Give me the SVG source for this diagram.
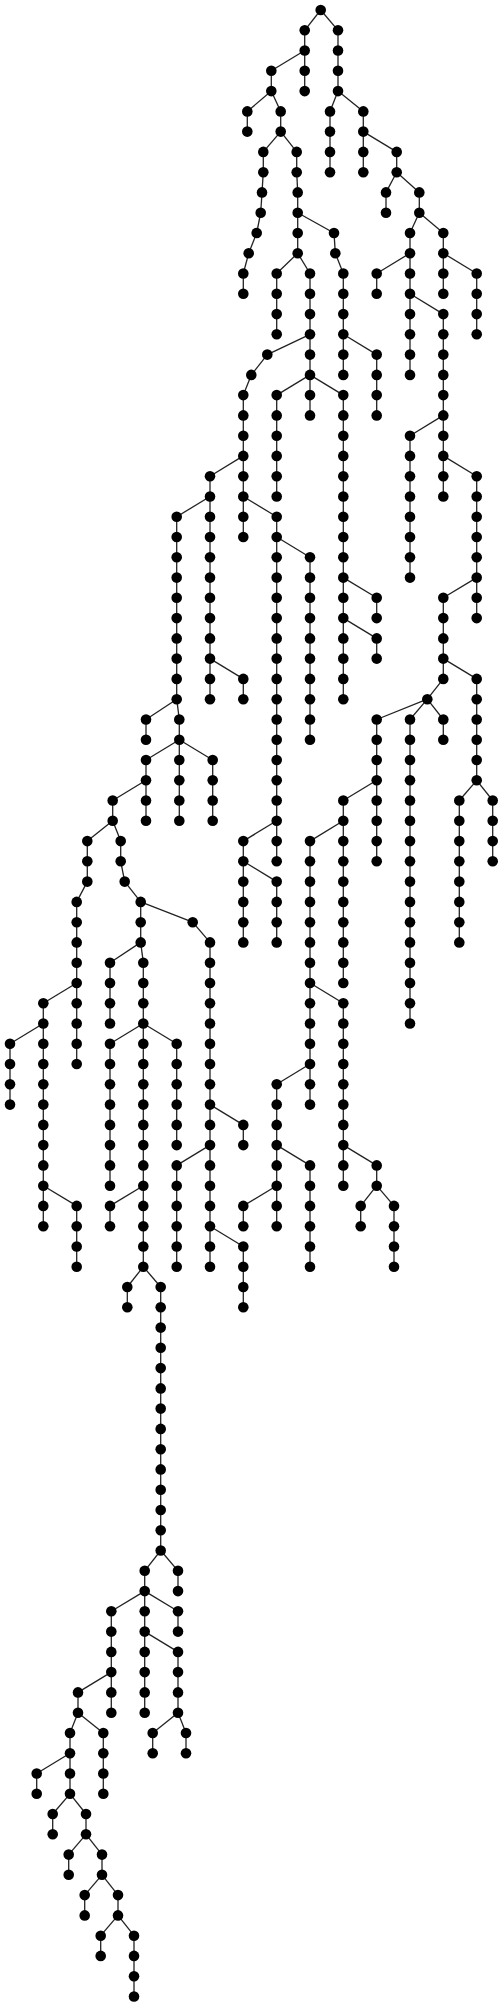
<svg xmlns="http://www.w3.org/2000/svg" width="503" height="2006" viewBox="0 0 503 2006">
<style>
#edges path{fill:none;stroke:#222;stroke-width:1.3}
#nodes circle{fill:#000}
</style>
<rect width="503" height="2006" fill="#fff"/>
<g id="edges">
<path d="M320.7 10L304.7 30.3"/><path d="M320.7 10L338 30.3"/>
<path d="M304.7 30.3V50.5"/><path d="M338 30.3V50.5"/>
<path d="M304.7 50.5L271.3 70.8"/><path d="M304.7 50.5V70.8"/><path d="M338 50.5V70.8"/>
<path d="M271.3 70.8V91.1"/><path d="M304.7 70.8V91.1"/><path d="M338 70.8V91.1"/>
<path d="M271.3 91.1L247.3 111.4"/><path d="M271.3 91.1L280.7 111.4"/><path d="M338 91.1L330 111.4"/><path d="M338 91.1L363.3 111.4"/>
<path d="M247.3 111.4V131.6"/><path d="M280.7 111.4V131.6"/><path d="M330 111.4V131.6"/><path d="M363.3 111.4V131.6"/>
<path d="M280.7 131.6L263.3 151.9"/><path d="M280.7 131.6L296.7 151.9"/><path d="M330 131.6V151.9"/><path d="M363.3 131.6V151.9"/><path d="M363.3 131.6L396.7 151.9"/>
<path d="M263.3 151.9V172.2"/><path d="M296.7 151.9V172.2"/><path d="M330 151.9V172.2"/><path d="M363.3 151.9V172.2"/><path d="M396.7 151.9V172.2"/>
<path d="M263.3 172.2L262 192.4"/><path d="M296.7 172.2L297.7 192.4"/><path d="M396.7 172.2L386 192.4"/><path d="M396.7 172.2L419.3 192.4"/>
<path d="M262 192.4L260.7 212.7"/><path d="M297.7 192.4V212.7"/><path d="M386 192.4V212.7"/><path d="M419.3 192.4V212.7"/>
<path d="M260.7 212.7L256.7 233"/><path d="M297.7 212.7V233"/><path d="M297.7 212.7L334 233"/><path d="M419.3 212.7L410 233"/><path d="M419.3 212.7L443.3 233"/>
<path d="M256.7 233L248.7 253.2"/><path d="M297.7 233V253.2"/><path d="M334 233L335.3 253.2"/><path d="M410 233V253.2"/><path d="M443.3 233V253.2"/>
<path d="M248.7 253.2L243.3 273.5"/><path d="M297.7 253.2L276.7 273.5"/><path d="M297.7 253.2L310 273.5"/><path d="M335.3 253.2L343.3 273.5"/><path d="M410 253.2L376.7 273.5"/><path d="M410 253.2V273.5"/><path d="M443.3 253.2V273.5"/><path d="M443.3 253.2L476.7 273.5"/>
<path d="M243.3 273.5V293.8"/><path d="M276.7 273.5V293.8"/><path d="M310 273.5V293.8"/><path d="M343.3 273.5V293.8"/><path d="M376.7 273.5V293.8"/><path d="M410 273.5V293.8"/><path d="M443.3 273.5V293.8"/><path d="M476.7 273.5V293.8"/>
<path d="M276.7 293.8V314.1"/><path d="M310 293.8V314.1"/><path d="M343.3 293.8V314.1"/><path d="M410 293.8V314.1"/><path d="M410 293.8L443.3 314.1"/><path d="M476.7 293.8V314.1"/>
<path d="M276.7 314.1V334.3"/><path d="M310 314.1V334.3"/><path d="M343.3 314.1V334.3"/><path d="M410 314.1V334.3"/><path d="M443.3 314.1V334.3"/><path d="M476.7 314.1V334.3"/>
<path d="M310 334.3L267.3 354.6"/><path d="M310 334.3V354.6"/><path d="M343.3 334.3V354.6"/><path d="M343.3 334.3L376.7 354.6"/><path d="M410 334.3V354.6"/><path d="M443.3 334.3V354.6"/>
<path d="M267.3 354.6L251.3 374.9"/><path d="M310 354.6V374.9"/><path d="M343.3 354.6V374.9"/><path d="M376.7 354.6V374.9"/><path d="M410 354.6V374.9"/><path d="M443.3 354.6V374.9"/>
<path d="M251.3 374.9L243.3 395.1"/><path d="M310 374.9L276.7 395.1"/><path d="M310 374.9V395.1"/><path d="M310 374.9L343.3 395.1"/><path d="M376.7 374.9V395.1"/><path d="M443.3 374.9V395.1"/>
<path d="M243.3 395.1V415.4"/><path d="M276.7 395.1V415.4"/><path d="M310 395.1V415.4"/><path d="M343.3 395.1V415.4"/><path d="M376.7 395.1V415.4"/><path d="M443.3 395.1V415.4"/>
<path d="M243.3 415.4V435.7"/><path d="M276.7 415.4V435.7"/><path d="M343.3 415.4V435.7"/><path d="M443.3 415.4L410 435.7"/><path d="M443.3 415.4V435.7"/>
<path d="M243.3 435.7V455.9"/><path d="M276.7 435.7V455.9"/><path d="M343.3 435.7V455.9"/><path d="M410 435.7V455.9"/><path d="M443.3 435.7V455.9"/>
<path d="M243.3 455.9L210 476.2"/><path d="M243.3 455.9V476.2"/><path d="M276.7 455.9V476.2"/><path d="M343.3 455.9V476.2"/><path d="M410 455.9V476.2"/><path d="M443.3 455.9V476.2"/><path d="M443.3 455.9L476.7 476.2"/>
<path d="M210 476.2V496.5"/><path d="M243.3 476.2V496.5"/><path d="M276.7 476.2V496.5"/><path d="M343.3 476.2V496.5"/><path d="M410 476.2V496.5"/><path d="M443.3 476.2V496.5"/><path d="M476.7 476.2V496.5"/>
<path d="M210 496.5L176.7 516.8"/><path d="M210 496.5V516.8"/><path d="M243.3 496.5V516.8"/><path d="M243.3 496.5L276.7 516.8"/><path d="M343.3 496.5V516.8"/><path d="M410 496.5V516.8"/><path d="M476.7 496.5V516.8"/>
<path d="M176.7 516.8V537"/><path d="M210 516.8V537"/><path d="M243.3 516.8V537"/><path d="M276.7 516.8V537"/><path d="M343.3 516.8V537"/><path d="M410 516.8V537"/><path d="M476.7 516.8V537"/>
<path d="M176.7 537V557.3"/><path d="M210 537V557.3"/><path d="M276.7 537V557.3"/><path d="M276.7 537L310 557.3"/><path d="M343.3 537V557.3"/><path d="M410 537V557.3"/><path d="M476.7 537V557.3"/>
<path d="M176.7 557.3V577.6"/><path d="M210 557.3V577.6"/><path d="M276.7 557.3V577.6"/><path d="M310 557.3V577.6"/><path d="M343.3 557.3V577.6"/><path d="M410 557.3V577.6"/><path d="M476.7 557.3V577.6"/>
<path d="M176.7 577.6V597.8"/><path d="M210 577.6V597.8"/><path d="M276.7 577.6V597.8"/><path d="M310 577.6V597.8"/><path d="M343.3 577.6V597.8"/><path d="M343.3 577.6L376.7 597.8"/><path d="M476.7 577.6L443.3 597.8"/><path d="M476.7 577.6V597.8"/>
<path d="M176.7 597.8V618.1"/><path d="M210 597.8V618.1"/><path d="M276.7 597.8V618.1"/><path d="M310 597.8V618.1"/><path d="M343.3 597.8V618.1"/><path d="M376.7 597.8V618.1"/><path d="M443.3 597.8V618.1"/><path d="M476.7 597.8V618.1"/>
<path d="M176.7 618.1V638.4"/><path d="M210 618.1V638.4"/><path d="M276.7 618.1V638.4"/><path d="M310 618.1V638.4"/><path d="M343.3 618.1V638.4"/><path d="M343.3 618.1L376.7 638.4"/><path d="M443.3 618.1V638.4"/>
<path d="M176.7 638.4V658.6"/><path d="M210 638.4V658.6"/><path d="M276.7 638.4V658.6"/><path d="M310 638.4V658.6"/><path d="M343.3 638.4V658.6"/><path d="M376.7 638.4V658.6"/><path d="M443.3 638.4V658.6"/>
<path d="M176.7 658.6V678.9"/><path d="M210 658.6V678.9"/><path d="M210 658.6L243.3 678.9"/><path d="M276.7 658.6V678.9"/><path d="M310 658.6V678.9"/><path d="M343.3 658.6V678.9"/><path d="M443.3 658.6V678.9"/><path d="M443.3 658.6L476.7 678.9"/>
<path d="M176.7 678.9V699.2"/><path d="M210 678.9V699.2"/><path d="M243.3 678.9V699.2"/><path d="M276.7 678.9V699.2"/><path d="M310 678.9V699.2"/><path d="M343.3 678.9V699.2"/><path d="M443.3 678.9L427.3 699.2"/><path d="M476.7 678.9V699.2"/>
<path d="M176.7 699.2L146 719.5"/><path d="M176.7 699.2L179.3 719.5"/><path d="M276.7 699.2V719.5"/><path d="M310 699.2V719.5"/><path d="M427.3 699.2L376.7 719.5"/><path d="M427.3 699.2L410 719.5"/><path d="M427.3 699.2L443.3 719.5"/><path d="M476.7 699.2V719.5"/>
<path d="M146 719.5V739.7"/><path d="M179.3 719.5V739.7"/><path d="M276.7 719.5V739.7"/><path d="M310 719.5V739.7"/><path d="M376.7 719.5V739.7"/><path d="M410 719.5V739.7"/><path d="M443.3 719.5V739.7"/><path d="M476.7 719.5V739.7"/>
<path d="M179.3 739.7L146 760"/><path d="M179.3 739.7V760"/><path d="M179.3 739.7L212.7 760"/><path d="M276.7 739.7V760"/><path d="M376.7 739.7V760"/><path d="M410 739.7V760"/><path d="M476.7 739.7V760"/>
<path d="M146 760V780.3"/><path d="M179.3 760V780.3"/><path d="M212.7 760V780.3"/><path d="M276.7 760V780.3"/><path d="M376.7 760V780.3"/><path d="M410 760V780.3"/><path d="M476.7 760V780.3"/>
<path d="M146 780.3L112.7 800.5"/><path d="M146 780.3V800.5"/><path d="M179.3 780.3V800.5"/><path d="M212.7 780.3V800.5"/><path d="M276.7 780.3V800.5"/><path d="M376.7 780.3L343.3 800.5"/><path d="M376.7 780.3V800.5"/><path d="M410 780.3V800.5"/><path d="M476.7 780.3L459.3 800.5"/><path d="M476.7 780.3L492.7 800.5"/>
<path d="M112.7 800.5V820.8"/><path d="M146 800.5V820.8"/><path d="M179.3 800.5V820.8"/><path d="M212.7 800.5V820.8"/><path d="M276.7 800.5V820.8"/><path d="M343.3 800.5V820.8"/><path d="M376.7 800.5V820.8"/><path d="M410 800.5V820.8"/><path d="M459.3 800.5V820.8"/><path d="M492.7 800.5V820.8"/>
<path d="M112.7 820.8L87.3 841.1"/><path d="M112.7 820.8L120.7 841.1"/><path d="M276.7 820.8L243.3 841.1"/><path d="M276.7 820.8V841.1"/><path d="M343.3 820.8L310 841.1"/><path d="M343.3 820.8V841.1"/><path d="M376.7 820.8V841.1"/><path d="M410 820.8V841.1"/><path d="M459.3 820.8V841.1"/><path d="M492.7 820.8V841.1"/>
<path d="M87.3 841.1V861.3"/><path d="M120.7 841.1V861.3"/><path d="M243.3 841.1V861.3"/><path d="M276.7 841.1V861.3"/><path d="M310 841.1V861.3"/><path d="M343.3 841.1V861.3"/><path d="M376.7 841.1V861.3"/><path d="M410 841.1V861.3"/><path d="M459.3 841.1V861.3"/><path d="M492.7 841.1V861.3"/>
<path d="M87.3 861.3V881.6"/><path d="M120.7 861.3L124.7 881.6"/><path d="M243.3 861.3V881.6"/><path d="M243.3 861.3L276.7 881.6"/><path d="M310 861.3V881.6"/><path d="M343.3 861.3V881.6"/><path d="M410 861.3V881.6"/><path d="M459.3 861.3V881.6"/>
<path d="M87.3 881.6L76.7 901.9"/><path d="M124.7 881.6L140.7 901.9"/><path d="M243.3 881.6V901.9"/><path d="M276.7 881.6V901.9"/><path d="M310 881.6V901.9"/><path d="M343.3 881.6V901.9"/><path d="M410 881.6V901.9"/><path d="M459.3 881.6V901.9"/>
<path d="M76.7 901.9V922.2"/><path d="M140.7 901.9V922.2"/><path d="M140.7 901.9L192.7 922.2"/><path d="M243.3 901.9V922.2"/><path d="M276.7 901.9V922.2"/><path d="M310 901.9V922.2"/><path d="M343.3 901.9V922.2"/><path d="M410 901.9V922.2"/><path d="M459.3 901.9V922.2"/>
<path d="M76.7 922.2V942.4"/><path d="M140.7 922.2V942.4"/><path d="M192.7 922.2L210 942.4"/><path d="M243.3 922.2V942.4"/><path d="M276.7 922.2V942.4"/><path d="M310 922.2V942.4"/><path d="M343.3 922.2V942.4"/><path d="M410 922.2V942.4"/><path d="M459.3 922.2V942.4"/>
<path d="M76.7 942.4V962.7"/><path d="M140.7 942.4L110 962.7"/><path d="M140.7 942.4L143.3 962.7"/><path d="M210 942.4V962.7"/><path d="M310 942.4V962.7"/><path d="M343.3 942.4V962.7"/><path d="M410 942.4V962.7"/>
<path d="M76.7 962.7V983"/><path d="M110 962.7V983"/><path d="M143.3 962.7V983"/><path d="M210 962.7V983"/><path d="M310 962.7V983"/><path d="M343.3 962.7V983"/><path d="M410 962.7V983"/>
<path d="M76.7 983L43.3 1003.2"/><path d="M76.7 983V1003.2"/><path d="M110 983V1003.2"/><path d="M143.3 983V1003.2"/><path d="M210 983V1003.2"/><path d="M310 983V1003.2"/><path d="M310 983L343.3 1003.2"/><path d="M410 983V1003.2"/>
<path d="M43.3 1003.2V1023.5"/><path d="M76.7 1003.2V1023.5"/><path d="M110 1003.2V1023.5"/><path d="M143.3 1003.2V1023.5"/><path d="M210 1003.2V1023.5"/><path d="M310 1003.2V1023.5"/><path d="M343.3 1003.2V1023.5"/><path d="M410 1003.2V1023.5"/>
<path d="M43.3 1023.5L10 1043.8"/><path d="M43.3 1023.5V1043.8"/><path d="M76.7 1023.5V1043.8"/><path d="M143.3 1023.5L110 1043.8"/><path d="M143.3 1023.5V1043.8"/><path d="M143.3 1023.5L176.7 1043.8"/><path d="M210 1023.5V1043.8"/><path d="M310 1023.5V1043.8"/><path d="M343.3 1023.5V1043.8"/>
<path d="M10 1043.8V1064"/><path d="M43.3 1043.8V1064"/><path d="M76.7 1043.8V1064"/><path d="M110 1043.8V1064"/><path d="M143.3 1043.8V1064"/><path d="M176.7 1043.8V1064"/><path d="M210 1043.8V1064"/><path d="M310 1043.8V1064"/><path d="M343.3 1043.8V1064"/>
<path d="M10 1064V1084.3"/><path d="M43.3 1064V1084.3"/><path d="M110 1064V1084.3"/><path d="M143.3 1064V1084.3"/><path d="M176.7 1064V1084.3"/><path d="M210 1064V1084.3"/><path d="M310 1064L276.7 1084.3"/><path d="M310 1064V1084.3"/><path d="M343.3 1064V1084.3"/>
<path d="M10 1084.3V1104.6"/><path d="M43.3 1084.3V1104.6"/><path d="M110 1084.3V1104.6"/><path d="M143.3 1084.3V1104.6"/><path d="M176.7 1084.3V1104.6"/><path d="M210 1084.3V1104.6"/><path d="M276.7 1084.3V1104.6"/><path d="M310 1084.3V1104.6"/><path d="M343.3 1084.3V1104.6"/>
<path d="M43.3 1104.6V1124.9"/><path d="M110 1104.6V1124.9"/><path d="M143.3 1104.6V1124.9"/><path d="M176.7 1104.6V1124.9"/><path d="M210 1104.6V1124.9"/><path d="M210 1104.6L243.3 1124.9"/><path d="M276.7 1104.6V1124.9"/><path d="M343.3 1104.6V1124.9"/>
<path d="M43.3 1124.9V1145.1"/><path d="M110 1124.9V1145.1"/><path d="M143.3 1124.9V1145.1"/><path d="M176.7 1124.9V1145.1"/><path d="M210 1124.9V1145.1"/><path d="M243.3 1124.9V1145.1"/><path d="M276.7 1124.9V1145.1"/><path d="M343.3 1124.9V1145.1"/>
<path d="M43.3 1145.1V1165.4"/><path d="M110 1145.1V1165.4"/><path d="M143.3 1145.1V1165.4"/><path d="M210 1145.1L176.7 1165.4"/><path d="M210 1145.1V1165.4"/><path d="M276.7 1145.1V1165.4"/><path d="M276.7 1145.1L310 1165.4"/><path d="M343.3 1145.1V1165.4"/><path d="M343.3 1145.1L376.7 1165.4"/>
<path d="M43.3 1165.4V1185.7"/><path d="M110 1165.4V1185.7"/><path d="M143.3 1165.4V1185.7"/><path d="M176.7 1165.4V1185.7"/><path d="M210 1165.4V1185.7"/><path d="M276.7 1165.4V1185.7"/><path d="M310 1165.4V1185.7"/><path d="M343.3 1165.4V1185.7"/><path d="M376.7 1165.4V1185.7"/>
<path d="M43.3 1185.7V1205.9"/><path d="M43.3 1185.7L76.7 1205.9"/><path d="M143.3 1185.7L110 1205.9"/><path d="M143.3 1185.7V1205.9"/><path d="M176.7 1185.7V1205.9"/><path d="M210 1185.7V1205.9"/><path d="M276.7 1185.7L243.3 1205.9"/><path d="M276.7 1185.7V1205.9"/><path d="M310 1185.7V1205.9"/><path d="M376.7 1185.7L360.7 1205.9"/><path d="M376.7 1185.7L394 1205.9"/>
<path d="M43.3 1205.9V1226.2"/><path d="M76.7 1205.9V1226.2"/><path d="M110 1205.9V1226.2"/><path d="M143.3 1205.9V1226.2"/><path d="M176.7 1205.9V1226.2"/><path d="M210 1205.9V1226.2"/><path d="M243.3 1205.9V1226.2"/><path d="M276.7 1205.9V1226.2"/><path d="M310 1205.9V1226.2"/><path d="M360.7 1205.9V1226.2"/><path d="M394 1205.9V1226.2"/>
<path d="M76.7 1226.2V1246.5"/><path d="M143.3 1226.2V1246.5"/><path d="M176.7 1226.2V1246.5"/><path d="M210 1226.2V1246.5"/><path d="M210 1226.2L243.3 1246.5"/><path d="M310 1226.2V1246.5"/><path d="M394 1226.2V1246.5"/>
<path d="M76.7 1246.5V1266.7"/><path d="M143.3 1246.5V1266.7"/><path d="M176.7 1246.5V1266.7"/><path d="M210 1246.5V1266.7"/><path d="M243.3 1246.5V1266.7"/><path d="M310 1246.5V1266.7"/><path d="M394 1246.5V1266.7"/>
<path d="M143.3 1266.7L127.3 1287"/><path d="M143.3 1266.7L160.7 1287"/><path d="M243.3 1266.7V1287"/>
<path d="M127.3 1287V1307.3"/><path d="M160.7 1287V1307.3"/><path d="M243.3 1287V1307.3"/>
<path d="M160.7 1307.3V1327.6"/><path d="M160.7 1327.6V1347.8"/><path d="M160.7 1347.8V1368.1"/><path d="M160.7 1368.1V1388.4"/><path d="M160.7 1388.4V1408.6"/><path d="M160.7 1408.6V1428.9"/><path d="M160.7 1428.9V1449.2"/><path d="M160.7 1449.2V1469.4"/><path d="M160.7 1469.4V1489.7"/><path d="M160.7 1489.7V1510"/><path d="M160.7 1510V1530.3"/><path d="M160.7 1530.3V1550.5"/>
<path d="M160.7 1550.5L144.7 1570.8"/><path d="M160.7 1550.5L178 1570.8"/>
<path d="M144.7 1570.8V1591.1"/><path d="M178 1570.8V1591.1"/>
<path d="M144.7 1591.1L111.3 1611.3"/><path d="M144.7 1591.1V1611.3"/><path d="M144.7 1591.1L178 1611.3"/>
<path d="M111.3 1611.3V1631.6"/><path d="M144.7 1611.3V1631.6"/><path d="M178 1611.3V1631.6"/>
<path d="M111.3 1631.6V1651.9"/><path d="M144.7 1631.6V1651.9"/><path d="M144.7 1631.6L178 1651.9"/>
<path d="M111.3 1651.9V1672.1"/><path d="M144.7 1651.9V1672.1"/><path d="M178 1651.9V1672.1"/>
<path d="M111.3 1672.1L78 1692.4"/><path d="M111.3 1672.1V1692.4"/><path d="M144.7 1672.1V1692.4"/><path d="M178 1672.1V1692.4"/>
<path d="M78 1692.4V1712.7"/><path d="M111.3 1692.4V1712.7"/><path d="M144.7 1692.4V1712.7"/><path d="M178 1692.4V1712.7"/>
<path d="M78 1712.7L70 1733"/><path d="M78 1712.7L103.3 1733"/><path d="M178 1712.7L152.7 1733"/><path d="M178 1712.7L186 1733"/>
<path d="M70 1733V1753.2"/><path d="M103.3 1733V1753.2"/><path d="M152.7 1733V1753.2"/><path d="M186 1733V1753.2"/>
<path d="M70 1753.2L36.7 1773.5"/><path d="M70 1753.2V1773.5"/><path d="M103.3 1753.2V1773.5"/>
<path d="M36.7 1773.5V1793.8"/><path d="M70 1773.5V1793.8"/><path d="M103.3 1773.5V1793.8"/>
<path d="M70 1793.8L52.7 1814"/><path d="M70 1793.8L86 1814"/>
<path d="M52.7 1814V1834.3"/><path d="M86 1814V1834.3"/>
<path d="M86 1834.3L68.7 1854.6"/><path d="M86 1834.3L102 1854.6"/>
<path d="M68.7 1854.6V1874.8"/><path d="M102 1854.6V1874.8"/>
<path d="M102 1874.8L84.7 1895.1"/><path d="M102 1874.8L118 1895.1"/>
<path d="M84.7 1895.1V1915.4"/><path d="M118 1895.1V1915.4"/>
<path d="M118 1915.4L100.7 1935.7"/><path d="M118 1915.4L134 1935.7"/>
<path d="M100.7 1935.7V1955.9"/><path d="M134 1935.7V1955.9"/>
<path d="M134 1955.9V1976.2"/><path d="M134 1976.2V1996.5"/>
</g>
<g id="nodes">
<g id="n0_962"><circle cx="320.7" cy="10" r="5.3"/></g>
<g id="n1_914"><circle cx="304.7" cy="30.3" r="5.3"/></g><g id="n1_1014"><circle cx="338" cy="30.3" r="5.3"/></g>
<g id="n2_914"><circle cx="304.7" cy="50.5" r="5.3"/></g><g id="n2_1014"><circle cx="338" cy="50.5" r="5.3"/></g>
<g id="n3_814"><circle cx="271.3" cy="70.8" r="5.3"/></g><g id="n3_914"><circle cx="304.7" cy="70.8" r="5.3"/></g><g id="n3_1014"><circle cx="338" cy="70.8" r="5.3"/></g>
<g id="n4_814"><circle cx="271.3" cy="91.1" r="5.3"/></g><g id="n4_914"><circle cx="304.7" cy="91.1" r="5.3"/></g><g id="n4_1014"><circle cx="338" cy="91.1" r="5.3"/></g>
<g id="n5_742"><circle cx="247.3" cy="111.4" r="5.3"/></g><g id="n5_842"><circle cx="280.7" cy="111.4" r="5.3"/></g><g id="n5_990"><circle cx="330" cy="111.4" r="5.3"/></g><g id="n5_1090"><circle cx="363.3" cy="111.4" r="5.3"/></g>
<g id="n6_742"><circle cx="247.3" cy="131.6" r="5.3"/></g><g id="n6_842"><circle cx="280.7" cy="131.6" r="5.3"/></g><g id="n6_990"><circle cx="330" cy="131.6" r="5.3"/></g><g id="n6_1090"><circle cx="363.3" cy="131.6" r="5.3"/></g>
<g id="n7_790"><circle cx="263.3" cy="151.9" r="5.3"/></g><g id="n7_890"><circle cx="296.7" cy="151.9" r="5.3"/></g><g id="n7_990"><circle cx="330" cy="151.9" r="5.3"/></g><g id="n7_1090"><circle cx="363.3" cy="151.9" r="5.3"/></g><g id="n7_1190"><circle cx="396.7" cy="151.9" r="5.3"/></g>
<g id="n8_790"><circle cx="263.3" cy="172.2" r="5.3"/></g><g id="n8_890"><circle cx="296.7" cy="172.2" r="5.3"/></g><g id="n8_990"><circle cx="330" cy="172.2" r="5.3"/></g><g id="n8_1090"><circle cx="363.3" cy="172.2" r="5.3"/></g><g id="n8_1190"><circle cx="396.7" cy="172.2" r="5.3"/></g>
<g id="n9_786"><circle cx="262" cy="192.4" r="5.3"/></g><g id="n9_893"><circle cx="297.7" cy="192.4" r="5.3"/></g><g id="n9_1158"><circle cx="386" cy="192.4" r="5.3"/></g><g id="n9_1258"><circle cx="419.3" cy="192.4" r="5.3"/></g>
<g id="n10_782"><circle cx="260.7" cy="212.7" r="5.3"/></g><g id="n10_893"><circle cx="297.7" cy="212.7" r="5.3"/></g><g id="n10_1158"><circle cx="386" cy="212.7" r="5.3"/></g><g id="n10_1258"><circle cx="419.3" cy="212.7" r="5.3"/></g>
<g id="n11_770"><circle cx="256.7" cy="233" r="5.3"/></g><g id="n11_893"><circle cx="297.7" cy="233" r="5.3"/></g><g id="n11_1002"><circle cx="334" cy="233" r="5.3"/></g><g id="n11_1230"><circle cx="410" cy="233" r="5.3"/></g><g id="n11_1330"><circle cx="443.3" cy="233" r="5.3"/></g>
<g id="n12_746"><circle cx="248.7" cy="253.2" r="5.3"/></g><g id="n12_893"><circle cx="297.7" cy="253.2" r="5.3"/></g><g id="n12_1006"><circle cx="335.3" cy="253.2" r="5.3"/></g><g id="n12_1230"><circle cx="410" cy="253.2" r="5.3"/></g><g id="n12_1330"><circle cx="443.3" cy="253.2" r="5.3"/></g>
<g id="n13_730"><circle cx="243.3" cy="273.5" r="5.3"/></g><g id="n13_830"><circle cx="276.7" cy="273.5" r="5.3"/></g><g id="n13_930"><circle cx="310" cy="273.5" r="5.3"/></g><g id="n13_1030"><circle cx="343.3" cy="273.5" r="5.3"/></g><g id="n13_1130"><circle cx="376.7" cy="273.5" r="5.3"/></g><g id="n13_1230"><circle cx="410" cy="273.5" r="5.3"/></g><g id="n13_1330"><circle cx="443.3" cy="273.5" r="5.3"/></g><g id="n13_1430"><circle cx="476.7" cy="273.5" r="5.3"/></g>
<g id="n14_730"><circle cx="243.3" cy="293.8" r="5.3"/></g><g id="n14_830"><circle cx="276.7" cy="293.8" r="5.3"/></g><g id="n14_930"><circle cx="310" cy="293.8" r="5.3"/></g><g id="n14_1030"><circle cx="343.3" cy="293.8" r="5.3"/></g><g id="n14_1130"><circle cx="376.7" cy="293.8" r="5.3"/></g><g id="n14_1230"><circle cx="410" cy="293.8" r="5.3"/></g><g id="n14_1330"><circle cx="443.3" cy="293.8" r="5.3"/></g><g id="n14_1430"><circle cx="476.7" cy="293.8" r="5.3"/></g>
<g id="n15_830"><circle cx="276.7" cy="314.1" r="5.3"/></g><g id="n15_930"><circle cx="310" cy="314.1" r="5.3"/></g><g id="n15_1030"><circle cx="343.3" cy="314.1" r="5.3"/></g><g id="n15_1230"><circle cx="410" cy="314.1" r="5.3"/></g><g id="n15_1330"><circle cx="443.3" cy="314.1" r="5.3"/></g><g id="n15_1430"><circle cx="476.7" cy="314.1" r="5.3"/></g>
<g id="n16_830"><circle cx="276.7" cy="334.3" r="5.3"/></g><g id="n16_930"><circle cx="310" cy="334.3" r="5.3"/></g><g id="n16_1030"><circle cx="343.3" cy="334.3" r="5.3"/></g><g id="n16_1230"><circle cx="410" cy="334.3" r="5.3"/></g><g id="n16_1330"><circle cx="443.3" cy="334.3" r="5.3"/></g><g id="n16_1430"><circle cx="476.7" cy="334.3" r="5.3"/></g>
<g id="n17_802"><circle cx="267.3" cy="354.6" r="5.3"/></g><g id="n17_930"><circle cx="310" cy="354.6" r="5.3"/></g><g id="n17_1030"><circle cx="343.3" cy="354.6" r="5.3"/></g><g id="n17_1130"><circle cx="376.7" cy="354.6" r="5.3"/></g><g id="n17_1230"><circle cx="410" cy="354.6" r="5.3"/></g><g id="n17_1330"><circle cx="443.3" cy="354.6" r="5.3"/></g>
<g id="n18_754"><circle cx="251.3" cy="374.9" r="5.3"/></g><g id="n18_930"><circle cx="310" cy="374.9" r="5.3"/></g><g id="n18_1030"><circle cx="343.3" cy="374.9" r="5.3"/></g><g id="n18_1130"><circle cx="376.7" cy="374.9" r="5.3"/></g><g id="n18_1230"><circle cx="410" cy="374.9" r="5.3"/></g><g id="n18_1330"><circle cx="443.3" cy="374.9" r="5.3"/></g>
<g id="n19_730"><circle cx="243.3" cy="395.1" r="5.3"/></g><g id="n19_830"><circle cx="276.7" cy="395.1" r="5.3"/></g><g id="n19_930"><circle cx="310" cy="395.1" r="5.3"/></g><g id="n19_1030"><circle cx="343.3" cy="395.1" r="5.3"/></g><g id="n19_1130"><circle cx="376.7" cy="395.1" r="5.3"/></g><g id="n19_1330"><circle cx="443.3" cy="395.1" r="5.3"/></g>
<g id="n20_730"><circle cx="243.3" cy="415.4" r="5.3"/></g><g id="n20_830"><circle cx="276.7" cy="415.4" r="5.3"/></g><g id="n20_930"><circle cx="310" cy="415.4" r="5.3"/></g><g id="n20_1030"><circle cx="343.3" cy="415.4" r="5.3"/></g><g id="n20_1130"><circle cx="376.7" cy="415.4" r="5.3"/></g><g id="n20_1330"><circle cx="443.3" cy="415.4" r="5.3"/></g>
<g id="n21_730"><circle cx="243.3" cy="435.7" r="5.3"/></g><g id="n21_830"><circle cx="276.7" cy="435.7" r="5.3"/></g><g id="n21_1030"><circle cx="343.3" cy="435.7" r="5.3"/></g><g id="n21_1230"><circle cx="410" cy="435.7" r="5.3"/></g><g id="n21_1330"><circle cx="443.3" cy="435.7" r="5.3"/></g>
<g id="n22_730"><circle cx="243.3" cy="455.9" r="5.3"/></g><g id="n22_830"><circle cx="276.7" cy="455.9" r="5.3"/></g><g id="n22_1030"><circle cx="343.3" cy="455.9" r="5.3"/></g><g id="n22_1230"><circle cx="410" cy="455.9" r="5.3"/></g><g id="n22_1330"><circle cx="443.3" cy="455.9" r="5.3"/></g>
<g id="n23_630"><circle cx="210" cy="476.2" r="5.3"/></g><g id="n23_730"><circle cx="243.3" cy="476.2" r="5.3"/></g><g id="n23_830"><circle cx="276.7" cy="476.2" r="5.3"/></g><g id="n23_1030"><circle cx="343.3" cy="476.2" r="5.3"/></g><g id="n23_1230"><circle cx="410" cy="476.2" r="5.3"/></g><g id="n23_1330"><circle cx="443.3" cy="476.2" r="5.3"/></g><g id="n23_1430"><circle cx="476.7" cy="476.2" r="5.3"/></g>
<g id="n24_630"><circle cx="210" cy="496.5" r="5.3"/></g><g id="n24_730"><circle cx="243.3" cy="496.5" r="5.3"/></g><g id="n24_830"><circle cx="276.7" cy="496.5" r="5.3"/></g><g id="n24_1030"><circle cx="343.3" cy="496.5" r="5.3"/></g><g id="n24_1230"><circle cx="410" cy="496.5" r="5.3"/></g><g id="n24_1330"><circle cx="443.3" cy="496.5" r="5.3"/></g><g id="n24_1430"><circle cx="476.7" cy="496.5" r="5.3"/></g>
<g id="n25_530"><circle cx="176.7" cy="516.8" r="5.3"/></g><g id="n25_630"><circle cx="210" cy="516.8" r="5.3"/></g><g id="n25_730"><circle cx="243.3" cy="516.8" r="5.3"/></g><g id="n25_830"><circle cx="276.7" cy="516.8" r="5.3"/></g><g id="n25_1030"><circle cx="343.3" cy="516.8" r="5.3"/></g><g id="n25_1230"><circle cx="410" cy="516.8" r="5.3"/></g><g id="n25_1430"><circle cx="476.7" cy="516.8" r="5.3"/></g>
<g id="n26_530"><circle cx="176.7" cy="537" r="5.3"/></g><g id="n26_630"><circle cx="210" cy="537" r="5.3"/></g><g id="n26_730"><circle cx="243.3" cy="537" r="5.3"/></g><g id="n26_830"><circle cx="276.7" cy="537" r="5.3"/></g><g id="n26_1030"><circle cx="343.3" cy="537" r="5.3"/></g><g id="n26_1230"><circle cx="410" cy="537" r="5.3"/></g><g id="n26_1430"><circle cx="476.7" cy="537" r="5.3"/></g>
<g id="n27_530"><circle cx="176.7" cy="557.3" r="5.3"/></g><g id="n27_630"><circle cx="210" cy="557.3" r="5.3"/></g><g id="n27_830"><circle cx="276.7" cy="557.3" r="5.3"/></g><g id="n27_930"><circle cx="310" cy="557.3" r="5.3"/></g><g id="n27_1030"><circle cx="343.3" cy="557.3" r="5.3"/></g><g id="n27_1230"><circle cx="410" cy="557.3" r="5.3"/></g><g id="n27_1430"><circle cx="476.7" cy="557.3" r="5.3"/></g>
<g id="n28_530"><circle cx="176.7" cy="577.6" r="5.3"/></g><g id="n28_630"><circle cx="210" cy="577.6" r="5.3"/></g><g id="n28_830"><circle cx="276.7" cy="577.6" r="5.3"/></g><g id="n28_930"><circle cx="310" cy="577.6" r="5.3"/></g><g id="n28_1030"><circle cx="343.3" cy="577.6" r="5.3"/></g><g id="n28_1230"><circle cx="410" cy="577.6" r="5.3"/></g><g id="n28_1430"><circle cx="476.7" cy="577.6" r="5.3"/></g>
<g id="n29_530"><circle cx="176.7" cy="597.8" r="5.3"/></g><g id="n29_630"><circle cx="210" cy="597.8" r="5.3"/></g><g id="n29_830"><circle cx="276.7" cy="597.8" r="5.3"/></g><g id="n29_930"><circle cx="310" cy="597.8" r="5.3"/></g><g id="n29_1030"><circle cx="343.3" cy="597.8" r="5.3"/></g><g id="n29_1130"><circle cx="376.7" cy="597.8" r="5.3"/></g><g id="n29_1330"><circle cx="443.3" cy="597.8" r="5.3"/></g><g id="n29_1430"><circle cx="476.7" cy="597.8" r="5.3"/></g>
<g id="n30_530"><circle cx="176.7" cy="618.1" r="5.3"/></g><g id="n30_630"><circle cx="210" cy="618.1" r="5.3"/></g><g id="n30_830"><circle cx="276.7" cy="618.1" r="5.3"/></g><g id="n30_930"><circle cx="310" cy="618.1" r="5.3"/></g><g id="n30_1030"><circle cx="343.3" cy="618.1" r="5.3"/></g><g id="n30_1130"><circle cx="376.7" cy="618.1" r="5.3"/></g><g id="n30_1330"><circle cx="443.3" cy="618.1" r="5.3"/></g><g id="n30_1430"><circle cx="476.7" cy="618.1" r="5.3"/></g>
<g id="n31_530"><circle cx="176.7" cy="638.4" r="5.3"/></g><g id="n31_630"><circle cx="210" cy="638.4" r="5.3"/></g><g id="n31_830"><circle cx="276.7" cy="638.4" r="5.3"/></g><g id="n31_930"><circle cx="310" cy="638.4" r="5.3"/></g><g id="n31_1030"><circle cx="343.3" cy="638.4" r="5.3"/></g><g id="n31_1130"><circle cx="376.7" cy="638.4" r="5.3"/></g><g id="n31_1330"><circle cx="443.3" cy="638.4" r="5.3"/></g>
<g id="n32_530"><circle cx="176.7" cy="658.6" r="5.3"/></g><g id="n32_630"><circle cx="210" cy="658.6" r="5.3"/></g><g id="n32_830"><circle cx="276.7" cy="658.6" r="5.3"/></g><g id="n32_930"><circle cx="310" cy="658.6" r="5.3"/></g><g id="n32_1030"><circle cx="343.3" cy="658.6" r="5.3"/></g><g id="n32_1130"><circle cx="376.7" cy="658.6" r="5.3"/></g><g id="n32_1330"><circle cx="443.3" cy="658.6" r="5.3"/></g>
<g id="n33_530"><circle cx="176.7" cy="678.9" r="5.3"/></g><g id="n33_630"><circle cx="210" cy="678.9" r="5.3"/></g><g id="n33_730"><circle cx="243.3" cy="678.9" r="5.3"/></g><g id="n33_830"><circle cx="276.7" cy="678.9" r="5.3"/></g><g id="n33_930"><circle cx="310" cy="678.9" r="5.3"/></g><g id="n33_1030"><circle cx="343.3" cy="678.9" r="5.3"/></g><g id="n33_1330"><circle cx="443.3" cy="678.9" r="5.3"/></g><g id="n33_1430"><circle cx="476.7" cy="678.9" r="5.3"/></g>
<g id="n34_530"><circle cx="176.7" cy="699.2" r="5.3"/></g><g id="n34_630"><circle cx="210" cy="699.2" r="5.3"/></g><g id="n34_730"><circle cx="243.3" cy="699.2" r="5.3"/></g><g id="n34_830"><circle cx="276.7" cy="699.2" r="5.3"/></g><g id="n34_930"><circle cx="310" cy="699.2" r="5.3"/></g><g id="n34_1030"><circle cx="343.3" cy="699.2" r="5.3"/></g><g id="n34_1282"><circle cx="427.3" cy="699.2" r="5.3"/></g><g id="n34_1430"><circle cx="476.7" cy="699.2" r="5.3"/></g>
<g id="n35_438"><circle cx="146" cy="719.5" r="5.3"/></g><g id="n35_538"><circle cx="179.3" cy="719.5" r="5.3"/></g><g id="n35_830"><circle cx="276.7" cy="719.5" r="5.3"/></g><g id="n35_930"><circle cx="310" cy="719.5" r="5.3"/></g><g id="n35_1130"><circle cx="376.7" cy="719.5" r="5.3"/></g><g id="n35_1230"><circle cx="410" cy="719.5" r="5.3"/></g><g id="n35_1330"><circle cx="443.3" cy="719.5" r="5.3"/></g><g id="n35_1430"><circle cx="476.7" cy="719.5" r="5.3"/></g>
<g id="n36_438"><circle cx="146" cy="739.7" r="5.3"/></g><g id="n36_538"><circle cx="179.3" cy="739.7" r="5.3"/></g><g id="n36_830"><circle cx="276.7" cy="739.7" r="5.3"/></g><g id="n36_930"><circle cx="310" cy="739.7" r="5.3"/></g><g id="n36_1130"><circle cx="376.7" cy="739.7" r="5.3"/></g><g id="n36_1230"><circle cx="410" cy="739.7" r="5.3"/></g><g id="n36_1330"><circle cx="443.3" cy="739.7" r="5.3"/></g><g id="n36_1430"><circle cx="476.7" cy="739.7" r="5.3"/></g>
<g id="n37_438"><circle cx="146" cy="760" r="5.3"/></g><g id="n37_538"><circle cx="179.3" cy="760" r="5.3"/></g><g id="n37_638"><circle cx="212.7" cy="760" r="5.3"/></g><g id="n37_830"><circle cx="276.7" cy="760" r="5.3"/></g><g id="n37_1130"><circle cx="376.7" cy="760" r="5.3"/></g><g id="n37_1230"><circle cx="410" cy="760" r="5.3"/></g><g id="n37_1430"><circle cx="476.7" cy="760" r="5.3"/></g>
<g id="n38_438"><circle cx="146" cy="780.3" r="5.3"/></g><g id="n38_538"><circle cx="179.3" cy="780.3" r="5.3"/></g><g id="n38_638"><circle cx="212.7" cy="780.3" r="5.3"/></g><g id="n38_830"><circle cx="276.7" cy="780.3" r="5.3"/></g><g id="n38_1130"><circle cx="376.7" cy="780.3" r="5.3"/></g><g id="n38_1230"><circle cx="410" cy="780.3" r="5.3"/></g><g id="n38_1430"><circle cx="476.7" cy="780.3" r="5.3"/></g>
<g id="n39_338"><circle cx="112.7" cy="800.5" r="5.3"/></g><g id="n39_438"><circle cx="146" cy="800.5" r="5.3"/></g><g id="n39_538"><circle cx="179.3" cy="800.5" r="5.3"/></g><g id="n39_638"><circle cx="212.7" cy="800.5" r="5.3"/></g><g id="n39_830"><circle cx="276.7" cy="800.5" r="5.3"/></g><g id="n39_1030"><circle cx="343.3" cy="800.5" r="5.3"/></g><g id="n39_1130"><circle cx="376.7" cy="800.5" r="5.3"/></g><g id="n39_1230"><circle cx="410" cy="800.5" r="5.3"/></g><g id="n39_1378"><circle cx="459.3" cy="800.5" r="5.3"/></g><g id="n39_1478"><circle cx="492.7" cy="800.5" r="5.3"/></g>
<g id="n40_338"><circle cx="112.7" cy="820.8" r="5.3"/></g><g id="n40_438"><circle cx="146" cy="820.8" r="5.3"/></g><g id="n40_538"><circle cx="179.3" cy="820.8" r="5.3"/></g><g id="n40_638"><circle cx="212.7" cy="820.8" r="5.3"/></g><g id="n40_830"><circle cx="276.7" cy="820.8" r="5.3"/></g><g id="n40_1030"><circle cx="343.3" cy="820.8" r="5.3"/></g><g id="n40_1130"><circle cx="376.7" cy="820.8" r="5.3"/></g><g id="n40_1230"><circle cx="410" cy="820.8" r="5.3"/></g><g id="n40_1378"><circle cx="459.3" cy="820.8" r="5.3"/></g><g id="n40_1478"><circle cx="492.7" cy="820.8" r="5.3"/></g>
<g id="n41_262"><circle cx="87.3" cy="841.1" r="5.3"/></g><g id="n41_362"><circle cx="120.7" cy="841.1" r="5.3"/></g><g id="n41_730"><circle cx="243.3" cy="841.1" r="5.3"/></g><g id="n41_830"><circle cx="276.7" cy="841.1" r="5.3"/></g><g id="n41_930"><circle cx="310" cy="841.1" r="5.3"/></g><g id="n41_1030"><circle cx="343.3" cy="841.1" r="5.3"/></g><g id="n41_1130"><circle cx="376.7" cy="841.1" r="5.3"/></g><g id="n41_1230"><circle cx="410" cy="841.1" r="5.3"/></g><g id="n41_1378"><circle cx="459.3" cy="841.1" r="5.3"/></g><g id="n41_1478"><circle cx="492.7" cy="841.1" r="5.3"/></g>
<g id="n42_262"><circle cx="87.3" cy="861.3" r="5.3"/></g><g id="n42_362"><circle cx="120.7" cy="861.3" r="5.3"/></g><g id="n42_730"><circle cx="243.3" cy="861.3" r="5.3"/></g><g id="n42_830"><circle cx="276.7" cy="861.3" r="5.3"/></g><g id="n42_930"><circle cx="310" cy="861.3" r="5.3"/></g><g id="n42_1030"><circle cx="343.3" cy="861.3" r="5.3"/></g><g id="n42_1130"><circle cx="376.7" cy="861.3" r="5.3"/></g><g id="n42_1230"><circle cx="410" cy="861.3" r="5.3"/></g><g id="n42_1378"><circle cx="459.3" cy="861.3" r="5.3"/></g><g id="n42_1478"><circle cx="492.7" cy="861.3" r="5.3"/></g>
<g id="n43_262"><circle cx="87.3" cy="881.6" r="5.3"/></g><g id="n43_374"><circle cx="124.7" cy="881.6" r="5.3"/></g><g id="n43_730"><circle cx="243.3" cy="881.6" r="5.3"/></g><g id="n43_830"><circle cx="276.7" cy="881.6" r="5.3"/></g><g id="n43_930"><circle cx="310" cy="881.6" r="5.3"/></g><g id="n43_1030"><circle cx="343.3" cy="881.6" r="5.3"/></g><g id="n43_1230"><circle cx="410" cy="881.6" r="5.3"/></g><g id="n43_1378"><circle cx="459.3" cy="881.6" r="5.3"/></g>
<g id="n44_230"><circle cx="76.7" cy="901.9" r="5.3"/></g><g id="n44_422"><circle cx="140.7" cy="901.9" r="5.3"/></g><g id="n44_730"><circle cx="243.3" cy="901.9" r="5.3"/></g><g id="n44_830"><circle cx="276.7" cy="901.9" r="5.3"/></g><g id="n44_930"><circle cx="310" cy="901.9" r="5.3"/></g><g id="n44_1030"><circle cx="343.3" cy="901.9" r="5.3"/></g><g id="n44_1230"><circle cx="410" cy="901.9" r="5.3"/></g><g id="n44_1378"><circle cx="459.3" cy="901.9" r="5.3"/></g>
<g id="n45_230"><circle cx="76.7" cy="922.2" r="5.3"/></g><g id="n45_422"><circle cx="140.7" cy="922.2" r="5.3"/></g><g id="n45_578"><circle cx="192.7" cy="922.2" r="5.3"/></g><g id="n45_730"><circle cx="243.3" cy="922.2" r="5.3"/></g><g id="n45_830"><circle cx="276.7" cy="922.2" r="5.3"/></g><g id="n45_930"><circle cx="310" cy="922.2" r="5.3"/></g><g id="n45_1030"><circle cx="343.3" cy="922.2" r="5.3"/></g><g id="n45_1230"><circle cx="410" cy="922.2" r="5.3"/></g><g id="n45_1378"><circle cx="459.3" cy="922.2" r="5.3"/></g>
<g id="n46_230"><circle cx="76.7" cy="942.4" r="5.3"/></g><g id="n46_422"><circle cx="140.7" cy="942.4" r="5.3"/></g><g id="n46_630"><circle cx="210" cy="942.4" r="5.3"/></g><g id="n46_730"><circle cx="243.3" cy="942.4" r="5.3"/></g><g id="n46_830"><circle cx="276.7" cy="942.4" r="5.3"/></g><g id="n46_930"><circle cx="310" cy="942.4" r="5.3"/></g><g id="n46_1030"><circle cx="343.3" cy="942.4" r="5.3"/></g><g id="n46_1230"><circle cx="410" cy="942.4" r="5.3"/></g><g id="n46_1378"><circle cx="459.3" cy="942.4" r="5.3"/></g>
<g id="n47_230"><circle cx="76.7" cy="962.7" r="5.3"/></g><g id="n47_330"><circle cx="110" cy="962.7" r="5.3"/></g><g id="n47_430"><circle cx="143.3" cy="962.7" r="5.3"/></g><g id="n47_630"><circle cx="210" cy="962.7" r="5.3"/></g><g id="n47_930"><circle cx="310" cy="962.7" r="5.3"/></g><g id="n47_1030"><circle cx="343.3" cy="962.7" r="5.3"/></g><g id="n47_1230"><circle cx="410" cy="962.7" r="5.3"/></g>
<g id="n48_230"><circle cx="76.7" cy="983" r="5.3"/></g><g id="n48_330"><circle cx="110" cy="983" r="5.3"/></g><g id="n48_430"><circle cx="143.3" cy="983" r="5.3"/></g><g id="n48_630"><circle cx="210" cy="983" r="5.3"/></g><g id="n48_930"><circle cx="310" cy="983" r="5.3"/></g><g id="n48_1030"><circle cx="343.3" cy="983" r="5.3"/></g><g id="n48_1230"><circle cx="410" cy="983" r="5.3"/></g>
<g id="n49_130"><circle cx="43.3" cy="1003.2" r="5.3"/></g><g id="n49_230"><circle cx="76.7" cy="1003.2" r="5.3"/></g><g id="n49_330"><circle cx="110" cy="1003.2" r="5.3"/></g><g id="n49_430"><circle cx="143.3" cy="1003.2" r="5.3"/></g><g id="n49_630"><circle cx="210" cy="1003.2" r="5.3"/></g><g id="n49_930"><circle cx="310" cy="1003.2" r="5.3"/></g><g id="n49_1030"><circle cx="343.3" cy="1003.2" r="5.3"/></g><g id="n49_1230"><circle cx="410" cy="1003.2" r="5.3"/></g>
<g id="n50_130"><circle cx="43.3" cy="1023.5" r="5.3"/></g><g id="n50_230"><circle cx="76.7" cy="1023.5" r="5.3"/></g><g id="n50_330"><circle cx="110" cy="1023.5" r="5.3"/></g><g id="n50_430"><circle cx="143.3" cy="1023.5" r="5.3"/></g><g id="n50_630"><circle cx="210" cy="1023.5" r="5.3"/></g><g id="n50_930"><circle cx="310" cy="1023.5" r="5.3"/></g><g id="n50_1030"><circle cx="343.3" cy="1023.5" r="5.3"/></g><g id="n50_1230"><circle cx="410" cy="1023.5" r="5.3"/></g>
<g id="n51_30"><circle cx="10" cy="1043.8" r="5.3"/></g><g id="n51_130"><circle cx="43.3" cy="1043.8" r="5.3"/></g><g id="n51_230"><circle cx="76.7" cy="1043.8" r="5.3"/></g><g id="n51_330"><circle cx="110" cy="1043.8" r="5.3"/></g><g id="n51_430"><circle cx="143.3" cy="1043.8" r="5.3"/></g><g id="n51_530"><circle cx="176.7" cy="1043.8" r="5.3"/></g><g id="n51_630"><circle cx="210" cy="1043.8" r="5.3"/></g><g id="n51_930"><circle cx="310" cy="1043.8" r="5.3"/></g><g id="n51_1030"><circle cx="343.3" cy="1043.8" r="5.3"/></g>
<g id="n52_30"><circle cx="10" cy="1064" r="5.3"/></g><g id="n52_130"><circle cx="43.3" cy="1064" r="5.3"/></g><g id="n52_230"><circle cx="76.7" cy="1064" r="5.3"/></g><g id="n52_330"><circle cx="110" cy="1064" r="5.3"/></g><g id="n52_430"><circle cx="143.3" cy="1064" r="5.3"/></g><g id="n52_530"><circle cx="176.7" cy="1064" r="5.3"/></g><g id="n52_630"><circle cx="210" cy="1064" r="5.3"/></g><g id="n52_930"><circle cx="310" cy="1064" r="5.3"/></g><g id="n52_1030"><circle cx="343.3" cy="1064" r="5.3"/></g>
<g id="n53_30"><circle cx="10" cy="1084.3" r="5.3"/></g><g id="n53_130"><circle cx="43.3" cy="1084.3" r="5.3"/></g><g id="n53_330"><circle cx="110" cy="1084.3" r="5.3"/></g><g id="n53_430"><circle cx="143.3" cy="1084.3" r="5.3"/></g><g id="n53_530"><circle cx="176.7" cy="1084.3" r="5.3"/></g><g id="n53_630"><circle cx="210" cy="1084.3" r="5.3"/></g><g id="n53_830"><circle cx="276.7" cy="1084.3" r="5.3"/></g><g id="n53_930"><circle cx="310" cy="1084.3" r="5.3"/></g><g id="n53_1030"><circle cx="343.3" cy="1084.3" r="5.3"/></g>
<g id="n54_30"><circle cx="10" cy="1104.6" r="5.3"/></g><g id="n54_130"><circle cx="43.3" cy="1104.6" r="5.3"/></g><g id="n54_330"><circle cx="110" cy="1104.6" r="5.3"/></g><g id="n54_430"><circle cx="143.3" cy="1104.6" r="5.3"/></g><g id="n54_530"><circle cx="176.7" cy="1104.6" r="5.3"/></g><g id="n54_630"><circle cx="210" cy="1104.6" r="5.3"/></g><g id="n54_830"><circle cx="276.7" cy="1104.6" r="5.3"/></g><g id="n54_930"><circle cx="310" cy="1104.6" r="5.3"/></g><g id="n54_1030"><circle cx="343.3" cy="1104.6" r="5.3"/></g>
<g id="n55_130"><circle cx="43.3" cy="1124.9" r="5.3"/></g><g id="n55_330"><circle cx="110" cy="1124.9" r="5.3"/></g><g id="n55_430"><circle cx="143.3" cy="1124.9" r="5.3"/></g><g id="n55_530"><circle cx="176.7" cy="1124.9" r="5.3"/></g><g id="n55_630"><circle cx="210" cy="1124.9" r="5.3"/></g><g id="n55_730"><circle cx="243.3" cy="1124.9" r="5.3"/></g><g id="n55_830"><circle cx="276.7" cy="1124.9" r="5.3"/></g><g id="n55_1030"><circle cx="343.3" cy="1124.9" r="5.3"/></g>
<g id="n56_130"><circle cx="43.3" cy="1145.1" r="5.3"/></g><g id="n56_330"><circle cx="110" cy="1145.1" r="5.3"/></g><g id="n56_430"><circle cx="143.3" cy="1145.1" r="5.3"/></g><g id="n56_530"><circle cx="176.7" cy="1145.1" r="5.3"/></g><g id="n56_630"><circle cx="210" cy="1145.1" r="5.3"/></g><g id="n56_730"><circle cx="243.3" cy="1145.1" r="5.3"/></g><g id="n56_830"><circle cx="276.7" cy="1145.1" r="5.3"/></g><g id="n56_1030"><circle cx="343.3" cy="1145.1" r="5.3"/></g>
<g id="n57_130"><circle cx="43.3" cy="1165.4" r="5.3"/></g><g id="n57_330"><circle cx="110" cy="1165.4" r="5.3"/></g><g id="n57_430"><circle cx="143.3" cy="1165.4" r="5.3"/></g><g id="n57_530"><circle cx="176.7" cy="1165.4" r="5.3"/></g><g id="n57_630"><circle cx="210" cy="1165.4" r="5.3"/></g><g id="n57_830"><circle cx="276.7" cy="1165.4" r="5.3"/></g><g id="n57_930"><circle cx="310" cy="1165.4" r="5.3"/></g><g id="n57_1030"><circle cx="343.3" cy="1165.4" r="5.3"/></g><g id="n57_1130"><circle cx="376.7" cy="1165.4" r="5.3"/></g>
<g id="n58_130"><circle cx="43.3" cy="1185.7" r="5.3"/></g><g id="n58_330"><circle cx="110" cy="1185.7" r="5.3"/></g><g id="n58_430"><circle cx="143.3" cy="1185.7" r="5.3"/></g><g id="n58_530"><circle cx="176.7" cy="1185.7" r="5.3"/></g><g id="n58_630"><circle cx="210" cy="1185.7" r="5.3"/></g><g id="n58_830"><circle cx="276.7" cy="1185.7" r="5.3"/></g><g id="n58_930"><circle cx="310" cy="1185.7" r="5.3"/></g><g id="n58_1030"><circle cx="343.3" cy="1185.7" r="5.3"/></g><g id="n58_1130"><circle cx="376.7" cy="1185.7" r="5.3"/></g>
<g id="n59_130"><circle cx="43.3" cy="1205.9" r="5.3"/></g><g id="n59_230"><circle cx="76.7" cy="1205.9" r="5.3"/></g><g id="n59_330"><circle cx="110" cy="1205.9" r="5.3"/></g><g id="n59_430"><circle cx="143.3" cy="1205.9" r="5.3"/></g><g id="n59_530"><circle cx="176.7" cy="1205.9" r="5.3"/></g><g id="n59_630"><circle cx="210" cy="1205.9" r="5.3"/></g><g id="n59_730"><circle cx="243.3" cy="1205.9" r="5.3"/></g><g id="n59_830"><circle cx="276.7" cy="1205.9" r="5.3"/></g><g id="n59_930"><circle cx="310" cy="1205.9" r="5.3"/></g><g id="n59_1082"><circle cx="360.7" cy="1205.9" r="5.3"/></g><g id="n59_1182"><circle cx="394" cy="1205.9" r="5.3"/></g>
<g id="n60_130"><circle cx="43.3" cy="1226.2" r="5.3"/></g><g id="n60_230"><circle cx="76.7" cy="1226.2" r="5.3"/></g><g id="n60_330"><circle cx="110" cy="1226.2" r="5.3"/></g><g id="n60_430"><circle cx="143.3" cy="1226.2" r="5.3"/></g><g id="n60_530"><circle cx="176.7" cy="1226.2" r="5.3"/></g><g id="n60_630"><circle cx="210" cy="1226.2" r="5.3"/></g><g id="n60_730"><circle cx="243.3" cy="1226.2" r="5.3"/></g><g id="n60_830"><circle cx="276.7" cy="1226.2" r="5.3"/></g><g id="n60_930"><circle cx="310" cy="1226.2" r="5.3"/></g><g id="n60_1082"><circle cx="360.7" cy="1226.2" r="5.3"/></g><g id="n60_1182"><circle cx="394" cy="1226.2" r="5.3"/></g>
<g id="n61_230"><circle cx="76.7" cy="1246.5" r="5.3"/></g><g id="n61_430"><circle cx="143.3" cy="1246.5" r="5.3"/></g><g id="n61_530"><circle cx="176.7" cy="1246.5" r="5.3"/></g><g id="n61_630"><circle cx="210" cy="1246.5" r="5.3"/></g><g id="n61_730"><circle cx="243.3" cy="1246.5" r="5.3"/></g><g id="n61_930"><circle cx="310" cy="1246.5" r="5.3"/></g><g id="n61_1182"><circle cx="394" cy="1246.5" r="5.3"/></g>
<g id="n62_230"><circle cx="76.7" cy="1266.7" r="5.3"/></g><g id="n62_430"><circle cx="143.3" cy="1266.7" r="5.3"/></g><g id="n62_530"><circle cx="176.7" cy="1266.7" r="5.3"/></g><g id="n62_630"><circle cx="210" cy="1266.7" r="5.3"/></g><g id="n62_730"><circle cx="243.3" cy="1266.7" r="5.3"/></g><g id="n62_930"><circle cx="310" cy="1266.7" r="5.3"/></g><g id="n62_1182"><circle cx="394" cy="1266.7" r="5.3"/></g>
<g id="n63_382"><circle cx="127.3" cy="1287" r="5.3"/></g><g id="n63_482"><circle cx="160.7" cy="1287" r="5.3"/></g><g id="n63_730"><circle cx="243.3" cy="1287" r="5.3"/></g>
<g id="n64_382"><circle cx="127.3" cy="1307.3" r="5.3"/></g><g id="n64_482"><circle cx="160.7" cy="1307.3" r="5.3"/></g><g id="n64_730"><circle cx="243.3" cy="1307.3" r="5.3"/></g>
<g id="n65_482"><circle cx="160.7" cy="1327.6" r="5.3"/></g>
<g id="n66_482"><circle cx="160.7" cy="1347.8" r="5.3"/></g>
<g id="n67_482"><circle cx="160.7" cy="1368.1" r="5.3"/></g>
<g id="n68_482"><circle cx="160.7" cy="1388.4" r="5.3"/></g>
<g id="n69_482"><circle cx="160.7" cy="1408.6" r="5.3"/></g>
<g id="n70_482"><circle cx="160.7" cy="1428.9" r="5.3"/></g>
<g id="n71_482"><circle cx="160.7" cy="1449.2" r="5.3"/></g>
<g id="n72_482"><circle cx="160.7" cy="1469.4" r="5.3"/></g>
<g id="n73_482"><circle cx="160.7" cy="1489.7" r="5.3"/></g>
<g id="n74_482"><circle cx="160.7" cy="1510" r="5.3"/></g>
<g id="n75_482"><circle cx="160.7" cy="1530.3" r="5.3"/></g>
<g id="n76_482"><circle cx="160.7" cy="1550.5" r="5.3"/></g>
<g id="n77_434"><circle cx="144.7" cy="1570.8" r="5.3"/></g><g id="n77_534"><circle cx="178" cy="1570.8" r="5.3"/></g>
<g id="n78_434"><circle cx="144.7" cy="1591.1" r="5.3"/></g><g id="n78_534"><circle cx="178" cy="1591.1" r="5.3"/></g>
<g id="n79_334"><circle cx="111.3" cy="1611.3" r="5.3"/></g><g id="n79_434"><circle cx="144.7" cy="1611.3" r="5.3"/></g><g id="n79_534"><circle cx="178" cy="1611.3" r="5.3"/></g>
<g id="n80_334"><circle cx="111.3" cy="1631.6" r="5.3"/></g><g id="n80_434"><circle cx="144.7" cy="1631.6" r="5.3"/></g><g id="n80_534"><circle cx="178" cy="1631.6" r="5.3"/></g>
<g id="n81_334"><circle cx="111.3" cy="1651.9" r="5.3"/></g><g id="n81_434"><circle cx="144.7" cy="1651.9" r="5.3"/></g><g id="n81_534"><circle cx="178" cy="1651.9" r="5.3"/></g>
<g id="n82_334"><circle cx="111.3" cy="1672.1" r="5.3"/></g><g id="n82_434"><circle cx="144.7" cy="1672.1" r="5.3"/></g><g id="n82_534"><circle cx="178" cy="1672.1" r="5.3"/></g>
<g id="n83_234"><circle cx="78" cy="1692.4" r="5.3"/></g><g id="n83_334"><circle cx="111.3" cy="1692.4" r="5.3"/></g><g id="n83_434"><circle cx="144.7" cy="1692.4" r="5.3"/></g><g id="n83_534"><circle cx="178" cy="1692.4" r="5.3"/></g>
<g id="n84_234"><circle cx="78" cy="1712.7" r="5.3"/></g><g id="n84_334"><circle cx="111.3" cy="1712.7" r="5.3"/></g><g id="n84_434"><circle cx="144.7" cy="1712.7" r="5.3"/></g><g id="n84_534"><circle cx="178" cy="1712.7" r="5.3"/></g>
<g id="n85_210"><circle cx="70" cy="1733" r="5.3"/></g><g id="n85_310"><circle cx="103.3" cy="1733" r="5.3"/></g><g id="n85_458"><circle cx="152.7" cy="1733" r="5.3"/></g><g id="n85_558"><circle cx="186" cy="1733" r="5.3"/></g>
<g id="n86_210"><circle cx="70" cy="1753.2" r="5.3"/></g><g id="n86_310"><circle cx="103.3" cy="1753.2" r="5.3"/></g><g id="n86_458"><circle cx="152.7" cy="1753.2" r="5.3"/></g><g id="n86_558"><circle cx="186" cy="1753.2" r="5.3"/></g>
<g id="n87_110"><circle cx="36.7" cy="1773.5" r="5.3"/></g><g id="n87_210"><circle cx="70" cy="1773.5" r="5.3"/></g><g id="n87_310"><circle cx="103.3" cy="1773.5" r="5.3"/></g>
<g id="n88_110"><circle cx="36.7" cy="1793.8" r="5.3"/></g><g id="n88_210"><circle cx="70" cy="1793.8" r="5.3"/></g><g id="n88_310"><circle cx="103.3" cy="1793.8" r="5.3"/></g>
<g id="n89_158"><circle cx="52.7" cy="1814" r="5.3"/></g><g id="n89_258"><circle cx="86" cy="1814" r="5.3"/></g>
<g id="n90_158"><circle cx="52.7" cy="1834.3" r="5.3"/></g><g id="n90_258"><circle cx="86" cy="1834.3" r="5.3"/></g>
<g id="n91_206"><circle cx="68.7" cy="1854.6" r="5.3"/></g><g id="n91_306"><circle cx="102" cy="1854.6" r="5.3"/></g>
<g id="n92_206"><circle cx="68.7" cy="1874.8" r="5.3"/></g><g id="n92_306"><circle cx="102" cy="1874.8" r="5.3"/></g>
<g id="n93_254"><circle cx="84.7" cy="1895.1" r="5.3"/></g><g id="n93_354"><circle cx="118" cy="1895.1" r="5.3"/></g>
<g id="n94_254"><circle cx="84.7" cy="1915.4" r="5.3"/></g><g id="n94_354"><circle cx="118" cy="1915.4" r="5.3"/></g>
<g id="n95_302"><circle cx="100.7" cy="1935.7" r="5.3"/></g><g id="n95_402"><circle cx="134" cy="1935.7" r="5.3"/></g>
<g id="n96_302"><circle cx="100.7" cy="1955.9" r="5.3"/></g><g id="n96_402"><circle cx="134" cy="1955.9" r="5.3"/></g>
<g id="n97_402"><circle cx="134" cy="1976.2" r="5.3"/></g>
<g id="n98_402"><circle cx="134" cy="1996.5" r="5.3"/></g>
</g>
</svg>
